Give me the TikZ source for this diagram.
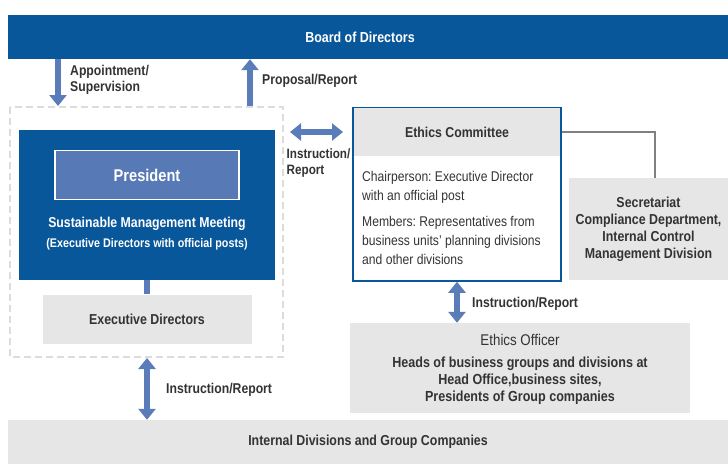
\documentclass[tikz,border=0pt]{standalone}
\usepackage{fontspec}
\setmainfont{Liberation Sans}[FakeStretch=0.86]
\usepackage{tikz}
\usetikzlibrary{positioning, arrows.meta}

\definecolor{navy}{HTML}{08579A}
\definecolor{midblue}{HTML}{5779B5}
\definecolor{arrowblue}{HTML}{5A7DBA}
\definecolor{boxgray}{HTML}{E6E6E6}
\definecolor{dashgray}{HTML}{DCDCDC}
\definecolor{linegray}{HTML}{808080}
\definecolor{txtgray}{HTML}{333333}

\frenchspacing
\begin{document}
\begin{tikzpicture}[x=1pt, y=-1pt,
    navybox/.style={fill=navy, text=white, font=\bfseries\fontsize{14.5}{17}\selectfont},
    graybox/.style={fill=boxgray, text=txtgray, font=\bfseries\fontsize{14.4}{17}\selectfont, align=center},
    lbl/.style={text=txtgray, font=\bfseries\fontsize{14.2}{16}\selectfont, align=left, anchor=west, inner sep=0pt},
    blockarrow/.style={draw=arrowblue, line width=6pt, -{Triangle[width=17pt, length=11pt]}},
    twoarrow/.style={draw=arrowblue, line width=6pt, {Triangle[width=17pt, length=11pt]}-{Triangle[width=17pt, length=11pt]}}]
    \useasboundingbox (0,0) rectangle (728,464);

    % top and bottom bands
    \node[navybox, minimum width=720pt, minimum height=44pt](board) at (368,37){\hspace*{-16pt}Board of Directors};
    \node[graybox, minimum width=720pt, minimum height=44pt](internal) at (368,442){Internal Divisions and Group Companies};

    % executive side
    \draw[dashgray, line width=2pt, dash pattern=on 7pt off 4pt] (10,107) rectangle (283,357);
    \node[navybox, minimum width=256pt, minimum height=150pt](meeting) at (147,205){};
    \node[fill=midblue, draw=white, line width=1.5pt, text=white, font=\bfseries\fontsize{17}{19}\selectfont,
        minimum width=184pt, minimum height=49pt](president) at (147,175){President};
    \node[text=white, font=\bfseries\fontsize{14.3}{16}\selectfont](smm) at (147,224){Sustainable Management Meeting};
    \node[text=white, font=\bfseries\fontsize{12.5}{14}\selectfont](posts) at (147,244){(Executive Directors with official posts)};
    \node[graybox, minimum width=209pt, minimum height=49pt](execdir) at (147,319){Executive Directors};
    \draw[arrowblue, line width=6pt] (meeting.south) -- (execdir.north);

    % ethics side
    \node[draw=navy, line width=1.5pt, minimum width=208pt, minimum height=173pt](ethics) at (457,194.5){};
    \node[fill=boxgray, minimum width=206.5pt, minimum height=48pt, text=txtgray,
        font=\bfseries\fontsize{14.3}{16}\selectfont, anchor=north](ethicshead) at ([yshift=-0.75pt]ethics.north){Ethics Committee};
    \node[text=txtgray, font=\fontsize{14.1}{19}\selectfont, align=left, anchor=north west, inner sep=0pt](ethicsbody)
        at (362,171.5){Chairperson: Executive Director\\with an official post\\[7pt]Members: Representatives from\\business units' planning divisions\\and other divisions};
    \node[graybox, minimum width=159pt, minimum height=102pt](secretariat) at (648.5,229)
        {Secretariat\\Compliance Department,\\Internal Control\\Management Division};
    \draw[linegray, line width=2.5pt] (ethics.east |- ethicshead) -| (secretariat.north -| 655,0);
    \node[graybox, minimum width=340pt, minimum height=90pt, font=\bfseries\fontsize{14.6}{17}\selectfont,
        text depth=0pt](officer) at (520,368)
        {{\mdseries\fontsize{15.5}{17}\selectfont\raisebox{0pt}[\height][0pt]{Ethics Officer}}\\[4.5pt]Heads of business groups and divisions at\\Head Office,business sites,\\Presidents of Group companies};

    % arrows
    \draw[blockarrow] (board.south -| 58,0) -- (58,106);
    \draw[blockarrow] (250,106) -- (board.south -| 250,0);
    \draw[twoarrow] (290,132) -- (343,132);
    \draw[twoarrow] (ethics.south) -- (officer.north -| ethics.south);
    \draw[twoarrow] (147,358) -- (internal.north -| 147,0);

    % labels
    \node[lbl](appoint) at (70,80){Appointment/\\Supervision};
    \node[lbl](proposal) at (262,81){Proposal/Report};
    \node[lbl, font=\bfseries\fontsize{13.6}{16}\selectfont](instr1) at (286.5,163){Instruction/\\Report};
    \node[lbl](instr2) at (472,304){Instruction/Report};
    \node[lbl](instr3) at (166,390){Instruction/Report};
\end{tikzpicture}
\end{document}
